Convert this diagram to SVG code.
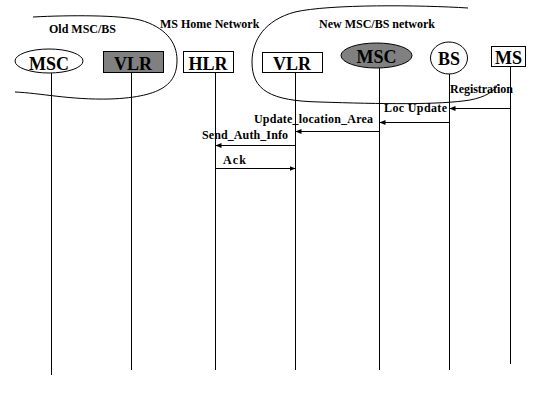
<svg xmlns="http://www.w3.org/2000/svg" width="560" height="420" viewBox="0 0 560 420">
<defs>
<style>
.t{font-family:"Liberation Serif","Times New Roman",serif;font-weight:bold;fill:#000}
.n{font-size:18px;text-anchor:middle}
.s{font-size:12px}
.b{fill:#fff;stroke:#000;stroke-width:1}
.g{fill:#808080;stroke:#000;stroke-width:1}
.l{stroke:#000;stroke-width:1;fill:none}
</style>
<marker id="ah" viewBox="0 0 6 6" refX="6" refY="3" markerWidth="6" markerHeight="6" markerUnits="userSpaceOnUse" orient="auto">
<path d="M0,0.5 L6,3 L0,5.5 Z" fill="#000"/>
</marker>
</defs>
<rect width="560" height="420" fill="#fff"/>
<g id="regions">
<path class="l" d="M33,17 C70,15 120,15 140,20 C165,27 177,42 177,60 C177,82 165,97 110,99 C70,100 40,93 15,92"/>
<path class="l" d="M468,8 C420,5 330,4 295,12 C265,20 252,40 252,62 C252,90 270,101 320,102 C380,104 440,105 470,100 C485,97 494,92 498,84"/>
<text class="t s" x="49" y="33">Old MSC/BS</text>
<text class="t s" x="160" y="28">MS Home Network</text>
<text class="t s" x="319" y="28">New MSC/BS network</text>
</g>
<g id="lifelines">
<line class="l" x1="51.5" y1="73" x2="51.5" y2="375"/>
<line class="l" x1="131.5" y1="73" x2="131.5" y2="370"/>
<line class="l" x1="215.5" y1="73" x2="215.5" y2="370"/>
<line class="l" x1="295.5" y1="73" x2="295.5" y2="370"/>
<line class="l" x1="379.5" y1="68" x2="379.5" y2="370"/>
<line class="l" x1="449.5" y1="74" x2="449.5" y2="370"/>
<line class="l" x1="510.5" y1="67" x2="510.5" y2="364"/>
</g>
<g id="node-old-msc">
<ellipse class="b" cx="49" cy="61" rx="34" ry="12"/>
<text class="t n" x="49" y="70">MSC</text>
</g>
<g id="node-old-vlr">
<rect class="g" x="103.5" y="51.5" width="60" height="21"/>
<text class="t n" x="133" y="70">VLR</text>
</g>
<g id="node-hlr">
<rect class="b" x="183.5" y="51.5" width="50" height="21"/>
<text class="t n" x="208" y="70">HLR</text>
</g>
<g id="node-new-vlr">
<rect class="b" x="262.5" y="52.5" width="60" height="20"/>
<text class="t n" x="292" y="70">VLR</text>
</g>
<g id="node-new-msc">
<ellipse class="g" cx="376.5" cy="55.5" rx="35.5" ry="12.5"/>
<text class="t n" x="376.5" y="63">MSC</text>
</g>
<g id="node-bs">
<ellipse class="b" cx="449" cy="58" rx="18.5" ry="16"/>
<text class="t n" x="449" y="65">BS</text>
</g>
<g id="node-ms">
<rect class="b" x="491.5" y="46.5" width="34" height="20"/>
<text class="t n" x="508.5" y="64">MS</text>
</g>
<g id="connectors">
<line class="l" x1="510.5" y1="108.5" x2="449.5" y2="108.5" marker-end="url(#ah)"/>
<line class="l" x1="449.5" y1="122.5" x2="379.5" y2="122.5" marker-end="url(#ah)"/>
<line class="l" x1="379.5" y1="131.5" x2="295.5" y2="131.5" marker-end="url(#ah)"/>
<line class="l" x1="295.5" y1="145.5" x2="215.5" y2="145.5" marker-end="url(#ah)"/>
<line class="l" x1="215.5" y1="168.5" x2="295.5" y2="168.5" marker-end="url(#ah)"/>
<text class="t s" x="450" y="93" textLength="63">Registration</text>
<text class="t s" x="384" y="112" textLength="63">Loc Update</text>
<text class="t s" x="254" y="123" textLength="119">Update_location_Area</text>
<text class="t s" x="202" y="139" textLength="86">Send_Auth_Info</text>
<text class="t s" x="223" y="164" textLength="23">Ack</text>
</g>
</svg>
